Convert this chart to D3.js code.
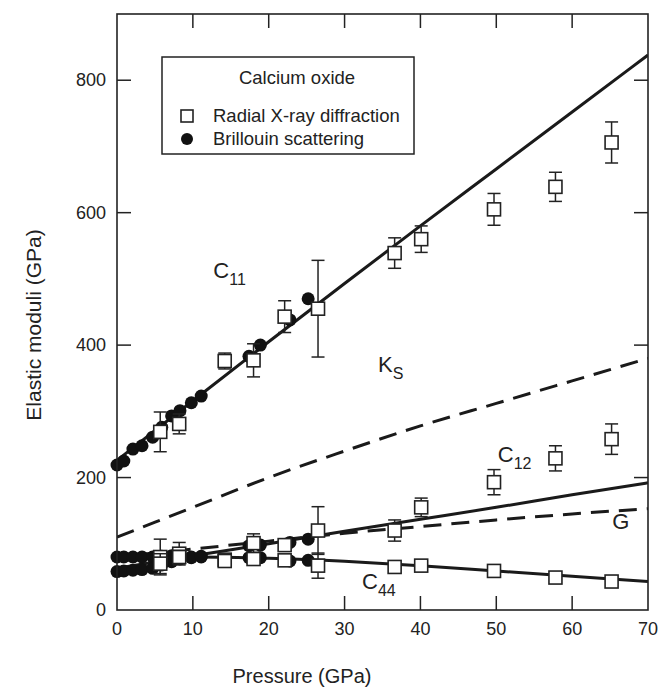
<!DOCTYPE html>
<html>
<head>
<meta charset="utf-8">
<script src="https://cdn.jsdelivr.net/npm/d3@7"></script>
<style>
  body { margin: 0; background: #fff; }
  text { font-family: 'Liberation Sans', Arial, sans-serif; fill: #222; }
  .frame { fill: none; stroke: #222; stroke-width: 1.6; }
  .tick-line { stroke: #222; stroke-width: 1.5; }
  .fit { fill: none; stroke: #1a1a1a; stroke-width: 3; }
  .fit.dashed { stroke-dasharray: 18,10; }
  .err { stroke: #222; stroke-width: 1.5; }
  .sq { fill: #fff; stroke: #222; stroke-width: 1.6; }
  .dot { fill: #111; }
</style>
</head>
<body>
<div id="chart"></div>
<script>
// Brillouin scattering (filled circles)
const brilP   = [0, 0.9, 2.1, 3.3, 4.7, 5.9, 7.2, 8.3, 9.8, 11.1, 17.4, 18.9, 22.8, 25.2]
const brilC11 = [219, 225, 243, 248, 261, 276, 293, 301, 313, 323, 383, 400, 438, 470]
const brilC44 = [80, 80, 80, 80, 80, 81, 82, 82, 80, 80, 79, 79, 74, 75]
const brilC12 = [58, 59, 60, 61, 63, 68, 73, 77, 79, 81, 97, 98, 102, 107]

// Radial X-ray diffraction (open squares with error bars)
const rxP      = [5.7, 8.2, 14.2, 18.0, 22.1, 26.5, 36.6, 40.1, 49.7, 57.8, 65.2]
const rxC11    = [269, 281, 376, 377, 443, 455, 539, 560, 605, 639, 706]
const rxC11Err = [30, 15, 12, 25, 24, 73, 23, 20, 24, 22, 31]
const rxC12    = [80, 85, 76, 101, 98, 120, 120, 155, 193, 229, 258]
const rxC12Err = [27, 17, 4, 14, 8, 36, 16, 14, 19, 19, 23]
const rxC44    = [70, 80, 74, 77, 75, 67, 65, 67, 59, 49, 43]
const rxC44Err = [15, 10, 4, 9, 6, 19, 3, 3, 3, 3, 3]

// Fitted curves, read at these pressures
const fitP   = [0, 10, 20, 30, 40, 50, 60, 70]
const fitC11 = [226, 316, 405, 493, 580, 666, 752, 838]
const fitKS  = [110, 155, 200, 240, 278, 312, 346, 380]
const fitC12 = [63, 82, 100, 119, 137, 155, 174, 192]
const fitG   = [80, 92, 104, 116, 126, 136, 145, 153]
const fitC44 = [80, 80, 78, 73.5, 67, 59, 51, 43]

const xTicks = [0, 10, 20, 30, 40, 50, 60, 70]
const yTicks = [0, 200, 400, 600, 800]

// Curve labels: [main, subscript, pressure, value]
const labels = [
  ['C', '11', 12.7, 502],
  ['K', 'S', 34.4, 359],
  ['C', '12', 50.2, 223],
  ['G', '', 65.3, 122],
  ['C', '44', 32.3, 32]
]

const W = 660, H = 690
const margin = {left: 117, right: 648, top: 14, bottom: 610}

const svg = d3.select('#chart').append('svg')
    .attr('width', W)
    .attr('height', H)

const x = d3.scaleLinear().domain([0, 70]).range([margin.left, margin.right])
const y = d3.scaleLinear().domain([0, 900]).range([margin.bottom, margin.top])

// Ticks (inside, on all four sides)
const tl = 14
xTicks.slice(1, -1).forEach(t => {
  svg.append('line').attr('class', 'tick-line')
    .attr('x1', x(t)).attr('x2', x(t)).attr('y1', margin.bottom).attr('y2', margin.bottom - tl)
  svg.append('line').attr('class', 'tick-line')
    .attr('x1', x(t)).attr('x2', x(t)).attr('y1', margin.top).attr('y2', margin.top + tl)
})
yTicks.slice(1).forEach(t => {
  svg.append('line').attr('class', 'tick-line')
    .attr('x1', margin.left).attr('x2', margin.left + tl).attr('y1', y(t)).attr('y2', y(t))
  svg.append('line').attr('class', 'tick-line')
    .attr('x1', margin.right).attr('x2', margin.right - tl).attr('y1', y(t)).attr('y2', y(t))
})

// Tick labels
svg.selectAll('.xlab').data(xTicks).enter().append('text')
  .attr('x', d => x(d))
  .attr('y', margin.bottom + 25)
  .attr('text-anchor', 'middle')
  .style('font-size', '18px')
  .text(d => d)

svg.selectAll('.ylab').data(yTicks).enter().append('text')
  .attr('x', margin.left - 11)
  .attr('y', d => y(d) + 6)
  .attr('text-anchor', 'end')
  .style('font-size', '18px')
  .text(d => d)

// Axis titles
svg.append('text')
  .attr('x', 302)
  .attr('y', 683)
  .attr('text-anchor', 'middle')
  .style('font-size', '20px')
  .text('Pressure (GPa)')

svg.append('text')
  .attr('transform', 'translate(41,325) rotate(-90)')
  .attr('text-anchor', 'middle')
  .style('font-size', '21px')
  .text('Elastic moduli (GPa)')

// Fitted curves
const line = d3.line()
    .x(d => x(d[0]))
    .y(d => y(d[1]))
    .curve(d3.curveMonotoneX)

const fits = [
  [fitC11, false], [fitKS, true], [fitC12, false], [fitG, true], [fitC44, false]
]
const plot = svg.append('g')
plot.append('clipPath').attr('id', 'clip')
  .append('rect').attr('x', margin.left).attr('y', margin.top)
  .attr('width', margin.right - margin.left).attr('height', margin.bottom - margin.top)

fits.forEach(([vals, dashed]) => {
  plot.append('path')
    .datum(fitP.map((p, i) => [p, vals[i]]))
    .attr('class', dashed ? 'fit dashed' : 'fit')
    .attr('clip-path', 'url(#clip)')
    .attr('d', line)
})

// Brillouin circles
;[brilC11, brilC44, brilC12].forEach(vals => {
  plot.selectAll(null).data(brilP.map((p, i) => [p, vals[i]])).enter()
    .append('circle')
    .attr('class', 'dot')
    .attr('cx', d => x(d[0]))
    .attr('cy', d => y(d[1]))
    .attr('r', 6.5)
})

// Radial X-ray squares with error bars
const cap = 6.5, half = 6.5
;[[rxC11, rxC11Err], [rxC12, rxC12Err], [rxC44, rxC44Err]].forEach(([vals, errs]) => {
  const pts = rxP.map((p, i) => ({p: p, v: vals[i], e: errs[i]}))
  const g = plot.append('g')
  pts.forEach(d => {
    const cx = x(d.p), y0 = y(d.v - d.e), y1 = y(d.v + d.e)
    g.append('line').attr('class', 'err')
      .attr('x1', cx).attr('x2', cx).attr('y1', y0).attr('y2', y1)
    g.append('line').attr('class', 'err')
      .attr('x1', cx - cap).attr('x2', cx + cap).attr('y1', y0).attr('y2', y0)
    g.append('line').attr('class', 'err')
      .attr('x1', cx - cap).attr('x2', cx + cap).attr('y1', y1).attr('y2', y1)
  })
  g.selectAll('rect').data(pts).enter().append('rect')
    .attr('class', 'sq')
    .attr('x', d => x(d.p) - half)
    .attr('y', d => y(d.v) - half)
    .attr('width', half * 2)
    .attr('height', half * 2)
})

// Curve labels
labels.forEach(([main, sub, p, v]) => {
  const t = svg.append('text')
    .attr('x', x(p))
    .attr('y', y(v))
    .style('font-size', '22px')
  t.append('tspan').text(main)
  if (sub) {
    t.append('tspan')
      .attr('dy', 7)
      .style('font-size', '16px')
      .text(sub)
  }
})

// Frame
svg.append('rect')
  .attr('class', 'frame')
  .attr('x', margin.left)
  .attr('y', margin.top)
  .attr('width', margin.right - margin.left)
  .attr('height', margin.bottom - margin.top)

// Legend
const leg = svg.append('g')
leg.append('rect')
  .attr('x', 162).attr('y', 57)
  .attr('width', 252).attr('height', 97)
  .attr('fill', '#fff')
  .attr('stroke', '#222')
  .attr('stroke-width', 1.5)

leg.append('text')
  .attr('x', 297).attr('y', 84)
  .attr('text-anchor', 'middle')
  .style('font-size', '18.5px')
  .text('Calcium oxide')

leg.append('rect')
  .attr('class', 'sq')
  .attr('x', 181).attr('y', 110)
  .attr('width', 12).attr('height', 12)

leg.append('text')
  .attr('x', 213).attr('y', 122)
  .style('font-size', '18.5px')
  .text('Radial X-ray diffraction')

leg.append('circle')
  .attr('class', 'dot')
  .attr('cx', 187).attr('cy', 139)
  .attr('r', 6)

leg.append('text')
  .attr('x', 213).attr('y', 145)
  .style('font-size', '18.5px')
  .text('Brillouin scattering')
</script>
</body>
</html>
